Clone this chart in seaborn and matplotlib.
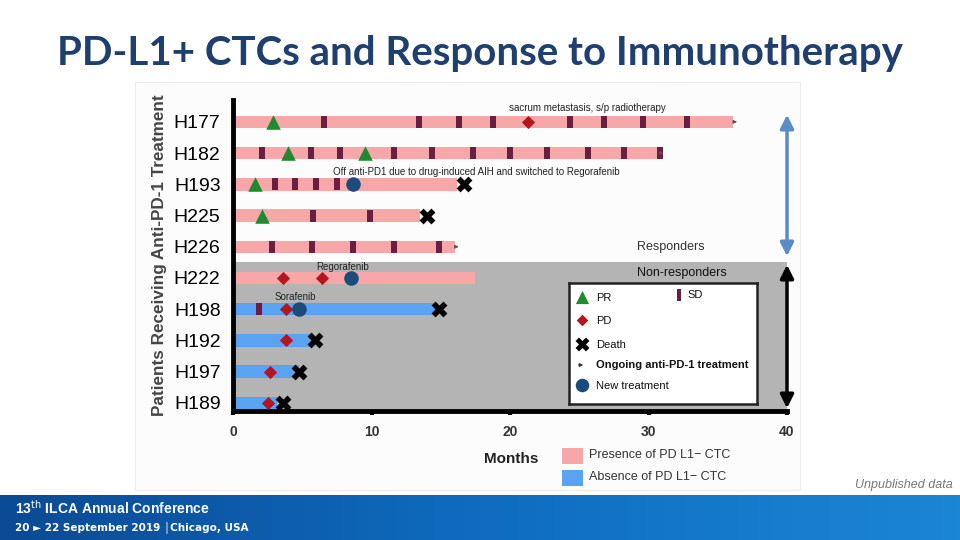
import numpy as np
import pandas as pd
import matplotlib
matplotlib.use("Agg")
import matplotlib.pyplot as plt
import seaborn as sns
from matplotlib.patches import Rectangle

# data (months)
patients = ["H177", "H182", "H193", "H225", "H226", "H222", "H198", "H192", "H197", "H189"]
duration = [36.1, 30.8, 16.2, 13.5, 16.0, 17.5, 14.8, 5.8, 4.8, 3.2]
ctc = ["Presence"] * 6 + ["Absence"] * 4

pr_pat = ["H177", "H182", "H182", "H193", "H225"]
pr_mon = [2.9, 4.0, 9.5, 1.6, 2.1]

sd_pat = (["H177"] * 8 + ["H182"] * 11 + ["H193"] * 4 + ["H225"] * 2 + ["H226"] * 5 + ["H198"])
sd_mon = [6.6, 13.4, 16.3, 18.8, 24.3, 26.8, 29.6, 32.8,
          2.1, 5.6, 7.7, 11.6, 14.4, 17.3, 20.0, 22.7, 25.6, 28.2, 30.8,
          3.0, 4.5, 6.0, 7.5,
          5.8, 9.9,
          2.8, 5.7, 8.7, 11.6, 14.9,
          1.9]

pd_pat = ["H177", "H222", "H222", "H198", "H192", "H197", "H189"]
pd_mon = [21.3, 3.6, 6.4, 3.8, 3.8, 2.7, 2.5]

death_pat = ["H193", "H225", "H198", "H192", "H197", "H189"]
death_mon = [16.7, 14.0, 14.9, 5.9, 4.8, 3.6]

new_pat = ["H193", "H222", "H198"]
new_mon = [8.7, 8.5, 4.8]

ongoing_pat = ["H177", "H182", "H226"]
ongoing_mon = [36.1, 30.8, 16.0]

notes = ["sacrum metastasis, s/p radiotherapy",
         "Off anti-PD1 due to drug-induced AIH and switched to Regorafenib",
         "Regorafenib", "Sorafenib"]

PINK = "#f7a7a8"
BLUE = "#5aa2f2"
GRAY = "#b4b4b4"
SDC = "#6a1f42"
GREEN = "#1f8a2f"
RED = "#b3161e"
NAVY = "#1c4c7c"

sns.set_theme(style="white")
plt.rcParams["font.family"] = ["Liberation Sans", "DejaVu Sans"]

fig = plt.figure(figsize=(9.6, 5.4), dpi=100)
W, H = 960, 540

def fx(px):
    return px / W

def fy(py):
    return 1 - py / H

# faint panel behind the chart
fig.patches.append(Rectangle((fx(135), fy(490)), fx(665), 408 / H, transform=fig.transFigure,
                             facecolor="#fcfcfc", edgecolor="#ececec", lw=0.8, zorder=-5))

ax = fig.add_axes([fx(233), fy(411), fx(554), 311 / H])
ax.set_facecolor("none")
row = {p: i for i, p in enumerate(patients)}
ymin, ymax = 9.26, -0.7

ax.axhspan(4.5, ymin, color=GRAY, zorder=0, lw=0)

bars = pd.DataFrame({"patient": patients, "months": duration, "ctc": ctc})
sns.barplot(data=bars, x="months", y="patient", hue="ctc", orient="h", dodge=False,
            palette={"Presence": PINK, "Absence": BLUE}, width=0.4, ax=ax, legend=False,
            saturation=1, zorder=2, edgecolor="none", linewidth=0)

def ys(pl):
    return [row[p] for p in pl]

sd_marker = [(-0.42, -1), (0.42, -1), (0.42, 1), (-0.42, 1)]
sns.scatterplot(x=sd_mon, y=ys(sd_pat), marker=sd_marker, s=85, color=SDC, lw=0, ax=ax, zorder=3)
sns.scatterplot(x=pr_mon, y=ys(pr_pat), marker="^", s=110, color=GREEN, lw=0, ax=ax, zorder=4)
sns.scatterplot(x=pd_mon, y=ys(pd_pat), marker="D", s=45, color=RED, lw=0, ax=ax, zorder=4)
sns.scatterplot(x=new_mon, y=ys(new_pat), marker="o", s=110, color=NAVY, lw=0, ax=ax, zorder=4)
sns.scatterplot(x=death_mon, y=ys(death_pat), marker="X", s=130, color="black", lw=0, ax=ax, zorder=5)
for p, m in zip(ongoing_pat, ongoing_mon):
    ax.annotate("", xy=(m + 0.5, row[p]), xytext=(m - 0.2, row[p]),
                arrowprops=dict(arrowstyle="-|>", color="#555555", lw=0.8, mutation_scale=5), zorder=5)

ax.set_xlim(0, 40)
ax.set_ylim(ymin, ymax)
ax.set_xticks([0, 10, 20, 30, 40])
ax.set_xticklabels(["0", "10", "20", "30", "40"], fontweight="bold", fontsize=10, color="#333333")
ax.tick_params(axis="x", length=3, width=3, color="black", pad=7, bottom=True)
ax.set_yticks(range(len(patients)))
ax.set_yticklabels(patients, fontsize=14, color="black")
ax.tick_params(axis="y", length=0, pad=9)
ax.set_xlabel("")
ax.set_ylabel("Patients Receiving Anti-PD-1 Treatment", fontsize=12.3, fontweight="bold",
              color="#444444", labelpad=5)
for s in ["top", "right"]:
    ax.spines[s].set_visible(False)
for s in ["left", "bottom"]:
    ax.spines[s].set_linewidth(3.5)
    ax.spines[s].set_color("black")

# event notes
ax.text(25.6, -0.45, notes[0], fontsize=7, color="#222222", ha="center", va="center")
ax.text(17.6, 1.6, notes[1], fontsize=7, color="#222222", ha="center", va="center")
ax.text(7.9, 4.65, notes[2], fontsize=7, color="#222222", ha="center", va="center")
ax.text(4.5, 5.6, notes[3], fontsize=7, color="#222222", ha="center", va="center")

ax.text(29.2, 4.0, "Responders", fontsize=9, color="#333333", va="center")
ax.text(29.2, 4.85, "Non-responders", fontsize=9, color="#111111", va="center")

# marker legend box
lg = fig.add_axes([fx(569), fy(404), fx(188), 121 / H])
lg.set_xlim(0, 188)
lg.set_ylim(121, 0)
lg.set_xticks([])
lg.set_yticks([])
lg.set_facecolor("white")
for s in lg.spines.values():
    s.set_linewidth(1.8)
    s.set_color("#222222")
items = [(13, 14, "^", GREEN, 90, "PR"), (13, 37, "D", RED, 35, "PD"), (13, 61, "X", "black", 100, "Death"),
         (13, 102, "o", NAVY, 95, "New treatment")]
for x0, y0, mk, c, sz, lab in items:
    lg.scatter([x0], [y0], marker=mk, s=sz, color=c, lw=0)
    lg.text(x0 + 14, y0 + 1, lab, fontsize=8, va="center", color="#111111")
lg.scatter([110], [12], marker=sd_marker, s=70, color=SDC, lw=0)
lg.text(118, 12, "SD", fontsize=8, va="center", color="#111111")
lg.annotate("", xy=(17, 82), xytext=(7, 82), arrowprops=dict(arrowstyle="-|>", color="#333333",
                                                             lw=0.8, mutation_scale=5))
lg.text(27, 82, "Ongoing anti-PD-1 treatment", fontsize=8, fontweight="bold", va="center", color="#111111")

# responder / non-responder double arrows
fig.patches.append(matplotlib.patches.FancyArrowPatch((fx(787), fy(112)), (fx(787), fy(259)),
                   transform=fig.transFigure, arrowstyle="<|-|>", mutation_scale=20, lw=2.5,
                   color="#5b8cc8", zorder=6))
fig.patches.append(matplotlib.patches.FancyArrowPatch((fx(787), fy(262)), (fx(787), fy(411)),
                   transform=fig.transFigure, arrowstyle="<|-|>", mutation_scale=20, lw=2.5,
                   color="black", zorder=6))

# axis title and colour legend
fig.text(fx(484), fy(459), "Months", fontsize=11, fontweight="bold", color="#222222", va="center")
fig.patches.append(Rectangle((fx(562), fy(464)), fx(21), 16 / H, transform=fig.transFigure,
                             color=PINK, lw=0))
fig.patches.append(Rectangle((fx(562), fy(486)), fx(21), 16 / H, transform=fig.transFigure,
                             color=BLUE, lw=0))
fig.text(fx(589), fy(455), "Presence of PD L1\u2212 CTC", fontsize=9, color="#333333", va="center")
fig.text(fx(589), fy(477), "Absence of PD L1\u2212 CTC", fontsize=9, color="#333333", va="center")

# slide title
fig.text(0.5, fy(53), "PD-L1+ CTCs and Response to Immunotherapy", fontsize=29, fontweight="bold",
         color="#1f3f6e", ha="center", va="center", family=["Lato", "DejaVu Sans"])
fig.text(fx(953), fy(485), "Unpublished data", fontsize=9, style="italic", color="#777777",
         ha="right", va="center")

# bottom banner
bn = fig.add_axes([0, 0, 1, 45 / H])
grad = np.linspace(0, 1, 256).reshape(1, -1)
cmap = matplotlib.colors.LinearSegmentedColormap.from_list("b", ["#0b4a94", "#0f6cbf", "#1b86d4"])
bn.imshow(grad, aspect="auto", cmap=cmap, extent=(0, 1, 0, 1))
bn.set_axis_off()
fig.text(fx(15), fy(508), "13$^{\\mathrm{th}}$ ILCA Annual Conference", fontsize=10, fontweight="bold",
         color="white", va="center")
fig.text(fx(15), fy(527), "20 \u25ba 22 September 2019 \u2502Chicago, USA", fontsize=7.5,
         fontweight="bold", color="white", va="center", family=["DejaVu Sans"])

fig.savefig("out.png", dpi=100)
